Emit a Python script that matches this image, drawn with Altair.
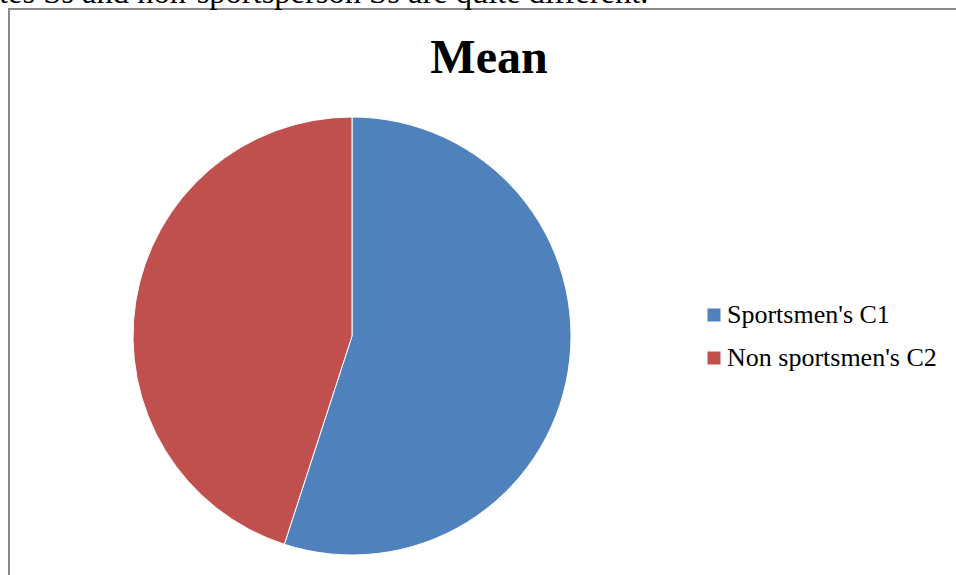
import altair as alt
import pandas as pd

categories = ["Sportsmen's C1", "Non sportsmen's C2"]
values = [55.0, 45.0]
order = [1, 2]
colors = ["#4F81BD", "#C0504D"]
title_text = ["Mean"]
top_text = ["tes Ss and non-sportsperson Ss are quite different."]

df = pd.DataFrame({"cat": categories, "val": values, "ord": order})

W, H = 956, 575
SERIF = "Liberation Serif"

pie = alt.Chart(df).mark_arc(
    outerRadius=219, stroke="white", strokeWidth=1
).encode(
    theta=alt.Theta("val:Q", stack=True),
    order=alt.Order("ord:Q"),
    color=alt.Color(
        "cat:N",
        scale=alt.Scale(domain=categories, range=colors),
        legend=alt.Legend(
            title=None, orient="none", legendX=701, legendY=302,
            symbolType="square", symbolSize=169, symbolStrokeWidth=0,
            labelFont=SERIF, labelFontSize=26, labelColor="black",
            labelOffset=0, rowPadding=17, padding=0, labelLimit=400,
        ),
    ),
    x=alt.value(352),
    y=alt.value(336),
)

border = alt.Chart(pd.DataFrame({"a": [0]})).mark_rect(
    fill=None, stroke="#888888", strokeWidth=2
).encode(
    x=alt.value(9), x2=alt.value(980), y=alt.value(9), y2=alt.value(600)
)

title = alt.Chart(pd.DataFrame({"t": title_text})).mark_text(
    font=SERIF, fontSize=48, fontWeight="bold", color="black",
    align="center", baseline="alphabetic"
).encode(text="t:N", x=alt.value(489), y=alt.value(73))

top = alt.Chart(pd.DataFrame({"t": top_text})).mark_text(
    font=SERIF, fontSize=32.5, color="black",
    align="left", baseline="alphabetic"
).encode(text="t:N", x=alt.value(-1), y=alt.value(3))

chart = alt.layer(border, pie, title, top).properties(
    width=W, height=H, padding=0, autosize=alt.AutoSizeParams(type="none")
).configure_view(stroke=None, clip=False)

chart.save("out.html", embed_options={"renderer": "svg", "actions": False})
